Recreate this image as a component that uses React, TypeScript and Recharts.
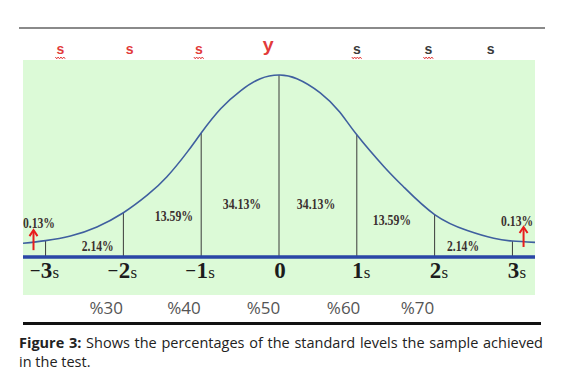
import React from 'react';
import { ComposedChart, Line, XAxis, YAxis, ReferenceLine, Scatter } from 'recharts';

// Bell curve (x in standard deviations, h = curve height)
const curveS = [-3.29, -3, -2.68, -2.34, -2, -1.69, -1.44, -1.18, -1, -0.75, -0.49, -0.24, 0, 0.23, 0.53, 0.78, 1, 1.35, 1.6, 2, 2.42, 2.76, 3, 3.29];
const curveH = [0.030, 0.036, 0.046, 0.066, 0.097, 0.136, 0.176, 0.230, 0.272, 0.325, 0.365, 0.391, 0.399, 0.391, 0.360, 0.318, 0.268, 0.198, 0.154, 0.093, 0.058, 0.041, 0.035, 0.032];

// Vertical dividers at each standard deviation
const sigmaTicks = [-3, -2, -1, 0, 1, 2, 3];
const sigmaLabels = ['−3s', '−2s', '−1s', '0', '1s', '2s', '3s'];
const dividerTops = [0.036, 0.097, 0.272, 0.399, 0.268, 0.093, 0.035];

// Area percentages
const pctText = ['0.13%', '2.14%', '13.59%', '34.13%', '34.13%', '13.59%', '2.14%', '0.13%'];
const pctS = [-3.085, -2.33, -1.35, -0.476, 0.476, 1.452, 2.365, 3.06];
const pctH = [0.0745, 0.024, 0.088, 0.116, 0.116, 0.081, 0.0226, 0.077];

// Red arrows in the tails
const arrowS = [-3.155, 3.143];
const arrowH = [0.015, 0.022];

// Top letters
const topPos = [-2.81, -1.92, -1.03, -0.14, 1.0, 1.92, 2.72];
const topText = ['s', 's', 's', 'y', 's', 's', 's'];
const topRed = [true, true, true, true, false, false, false];
const topWavy = [true, false, true, false, true, true, false];

// Bottom score labels
const scorePos = [-2.22, -1.22, -0.2, 0.83, 1.78];
const scoreText = ['%30', '%40', '%50', '%60', '%70'];

const DOMAIN: [number, number] = [-3.29, 3.29];

const curve = curveS.map((s, i) => ({ s, h: curveH[i] }));
const pctData = pctS.map((s, i) => ({ s, h: pctH[i], t: pctText[i] }));
const arrowData = arrowS.map((s, i) => ({ s, h: arrowH[i] }));

const SigmaTick = (props: any) => {
  const { x, y, index } = props;
  const label = sigmaLabels[index] ?? '';
  const neg = label.startsWith('−');
  const core = neg ? label.slice(1) : label;
  const digit = core[0];
  const suffix = core.slice(1);
  const base = y + 21;
  return (
    <g fontFamily="'Liberation Serif', 'Times New Roman', serif" fill="#1c1c1c" fontWeight="bold">
      {neg && (
        <text x={x - 5} y={base - 1} textAnchor="end" fontSize={19}>−</text>
      )}
      <text x={x + 1} y={base} textAnchor="middle" fontSize={23}>{digit}</text>
      {suffix && (
        <text x={x + 7} y={base} textAnchor="start" fontSize={17} fontWeight="normal">{suffix}</text>
      )}
    </g>
  );
};

const TopTick = (props: any) => {
  const { x, y, index } = props;
  const t = topText[index];
  const red = topRed[index];
  const wavy = topWavy[index];
  const isY = t === 'y';
  const base = y - 6;
  return (
    <g>
      <text
        x={x}
        y={isY ? base - 3 : base}
        textAnchor="middle"
        fontFamily={isY ? "'Liberation Mono', 'Courier New', monospace" : "'Liberation Sans', Arial, sans-serif"}
        fontWeight="bold"
        fontSize={isY ? 19 : 14}
        fill={red ? '#e23a3a' : '#3a3a3a'}
      >
        {t}
      </text>
      {wavy && (
        <path
          d={`M${x - 5},${base + 3} l1.4,1.8 l1.4,-1.8 l1.4,1.8 l1.4,-1.8 l1.4,1.8 l1.4,-1.8 l1.4,1.8`}
          stroke="#e23a3a"
          strokeWidth={1}
          fill="none"
        />
      )}
    </g>
  );
};

const ScoreTick = (props: any) => {
  const { x, y, index } = props;
  return (
    <text x={x} y={y + 24} textAnchor="middle" fontFamily="'Open Sans', sans-serif" fontSize={17} fill="#555">
      {scoreText[index]}
    </text>
  );
};

const PctShape = (props: any) => {
  const { cx, cy, payload } = props;
  const t: string = payload.t;
  return (
    <text
      x={cx}
      y={cy}
      textAnchor="middle"
      dominantBaseline="central"
      fontFamily="'Liberation Serif', 'Times New Roman', serif"
      fontWeight="bold"
      fontSize={14}
      fill="#3b3030"
      textLength={t.length * 6.4}
      lengthAdjust="spacingAndGlyphs"
    >
      {t}
    </text>
  );
};

const ArrowShape = (props: any) => {
  const { cx, cy } = props;
  return (
    <g stroke="#e81c1c" strokeWidth={2} fill="none">
      <line x1={cx} y1={cy} x2={cx} y2={cy - 19} />
      <polyline points={`${cx - 4},${cy - 14} ${cx},${cy - 20} ${cx + 4},${cy - 14}`} />
    </g>
  );
};

export default function App() {
  return (
    <div style={{ position: 'absolute', left: 0, top: 0, width: 569, height: 378, background: '#fff', overflow: 'hidden' }}>
      <div style={{ position: 'absolute', left: 19, top: 27, width: 526, height: 2, background: '#8a8a8a' }} />
      <div style={{ position: 'absolute', left: 23, top: 60, width: 512, height: 235, background: '#dcfad7' }} />
      <div style={{ position: 'absolute', left: 0, top: 0 }}>
        <ComposedChart width={569} height={330} margin={{ top: 30, right: 34, left: 23, bottom: 0 }}>
          <XAxis
            xAxisId="t"
            orientation="top"
            type="number"
            dataKey="s"
            domain={DOMAIN}
            allowDataOverflow
            ticks={topPos}
            interval={0}
            height={30}
            axisLine={false}
            tickLine={false}
            tickSize={0}
            tickMargin={0}
            tick={<TopTick />}
          />
          <XAxis
            xAxisId="a"
            type="number"
            dataKey="s"
            domain={DOMAIN}
            allowDataOverflow
            ticks={sigmaTicks}
            interval={0}
            height={33}
            axisLine={{ stroke: '#2a46a6', strokeWidth: 3.5 }}
            tickLine={false}
            tickSize={0}
            tickMargin={0}
            tick={<SigmaTick />}
          />
          <XAxis
            xAxisId="b"
            type="number"
            dataKey="s"
            domain={DOMAIN}
            allowDataOverflow
            ticks={scorePos}
            interval={0}
            height={40}
            axisLine={false}
            tickLine={false}
            tickSize={0}
            tickMargin={0}
            tick={<ScoreTick />}
          />
          <YAxis hide type="number" domain={[0, 0.432]} allowDataOverflow />
          {sigmaTicks.map((s, i) => (
            <ReferenceLine
              key={s}
              xAxisId="a"
              segment={[{ x: s, y: 0 }, { x: s, y: dividerTops[i] }]}
              stroke="#3a3a3a"
              strokeWidth={1}
              ifOverflow="visible"
            />
          ))}
          <Line
            xAxisId="a"
            data={curve}
            dataKey="h"
            type="natural"
            stroke="#3f5f9f"
            strokeWidth={1.6}
            dot={false}
            activeDot={false}
            isAnimationActive={false}
          />
          <Scatter xAxisId="a" data={pctData} dataKey="h" shape={<PctShape />} isAnimationActive={false} />
          <Scatter xAxisId="a" data={arrowData} dataKey="h" shape={<ArrowShape />} isAnimationActive={false} />
        </ComposedChart>
      </div>
      <div style={{ position: 'absolute', left: 23, top: 322, width: 518, height: 3, background: '#111' }} />
      <div
        style={{
          position: 'absolute',
          left: 19,
          top: 333,
          width: 524,
          fontFamily: "'Open Sans', sans-serif",
          fontSize: 14.5,
          lineHeight: '19px',
          color: '#222',
          textAlign: 'justify',
          textAlignLast: 'left',
        }}
      >
        <b>Figure 3:</b> Shows the percentages of the standard levels the sample achieved in the test.
      </div>
    </div>
  );
}
